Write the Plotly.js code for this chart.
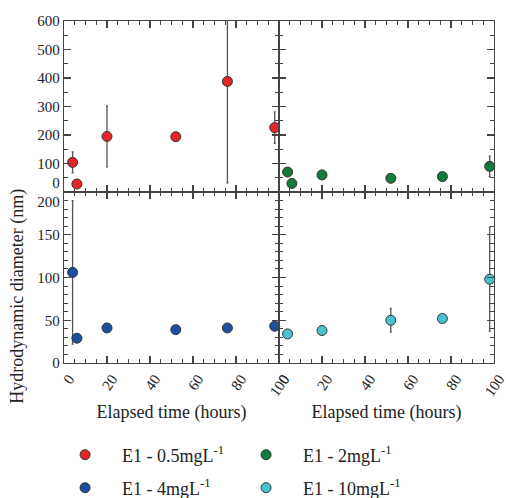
<!DOCTYPE html>
<html>
<head>
<meta charset="utf-8">
<script src="https://cdn.plot.ly/plotly-3.0.1.min.js"></script>
<style>html,body{margin:0;padding:0;background:#fff;}</style>
</head>
<body>
<div id="chart" style="width:506px;height:498px;"></div>
<script>
// ---- data ----
const timeA = [4, 6, 20, 52, 76, 98];          // hours, red / green / blue series
const timeCyan = [4, 20, 52, 76, 98];          // hours, cyan series

const red05 = [104, 28, 195, 194, 388, 226];
const red05Err = [37, 0, 107, 0, 356, 55];

const green2 = [70, 30, 60, 48, 54, 90];
const green2Err = [0, 0, 0, 0, 0, 36];

const blue4 = [106, 29, 41, 39, 41, 43];
const blue4Err = [84, 0, 0, 0, 0, 0];

const cyan10 = [34, 38, 50, 52, 98];
const cyan10Err = [0, 5, 14, 0, 61];

const seriesNames = ['E1 - 0.5mgL<sup>-1</sup>', 'E1 - 2mgL<sup>-1</sup>', 'E1 - 4mgL<sup>-1</sup>', 'E1 - 10mgL<sup>-1</sup>'];
const xTicks = [0, 20, 40, 60, 80, 100];
const yTicksTop = [0, 100, 200, 300, 400, 500, 600];
const yTicksBottom = [0, 50, 100, 150, 200];

// ---- styling ----
const FONT = '"Liberation Serif", "Times New Roman", serif';
const colors = ['#e8242b', '#117b3c', '#1d4f9f', '#4bc1cf'];
const errStyle = {type: 'data', symmetric: true, color: '#555', thickness: 1.3, width: 1};

function trace(x, y, err, i, xa, ya, legend, clip) {
  return {
    x: x, y: y, type: 'scatter', mode: 'markers', name: seriesNames[i],
    xaxis: xa, yaxis: ya, legend: legend, cliponaxis: clip,
    marker: {color: colors[i], size: 10, line: {color: '#333', width: 1}},
    error_y: Object.assign({array: err}, errStyle)
  };
}

const data = [
  trace(timeA, red05, red05Err, 0, 'x', 'y', 'legend', true),
  trace(timeA, green2, green2Err, 1, 'x2', 'y2', 'legend', false),
  trace(timeA, blue4, blue4Err, 2, 'x3', 'y3', 'legend2', false),
  trace(timeCyan, cyan10, cyan10Err, 3, 'x4', 'y4', 'legend2', false)
];

const axLine = '#444';
function xAxis(domain, anchor, labels) {
  return {
    domain: domain, anchor: anchor, range: [0, 100],
    tickvals: xTicks, ticktext: xTicks.map(String),
    showticklabels: labels, tickangle: -55, ticklabelshift: 5, ticklabeloverflow: 'allow',
    ticks: 'inside', ticklen: 7, tickwidth: 1.2, tickcolor: axLine,
    minor: {dtick: 5, ticks: 'inside', ticklen: 4, tickwidth: 1, tickcolor: axLine},
    showline: true, linecolor: axLine, linewidth: 1.3, mirror: 'allticks',
    showgrid: false, zeroline: false,
    tickfont: {family: FONT, size: 15, color: '#222'},
    title: labels ? {text: 'Elapsed time (hours)', font: {family: FONT, size: 18, color: '#222'}, standoff: 7} : {text: ''}
  };
}
function yAxis(domain, anchor, range, tickvals, ticktext, minorDt, labels) {
  return {
    domain: domain, anchor: anchor, range: range,
    tickvals: tickvals, ticktext: ticktext, showticklabels: labels,
    ticks: 'inside', ticklen: 7, tickwidth: 1.2, tickcolor: axLine,
    minor: {dtick: minorDt, ticks: 'inside', ticklen: 4, tickwidth: 1, tickcolor: axLine},
    showline: true, linecolor: axLine, linewidth: 1.3, mirror: 'allticks',
    showgrid: false, zeroline: false,
    tickfont: {family: FONT, size: 15, color: '#222'}
  };
}

const topText = yTicksTop.map(v => v === 0 ? '0<br>&nbsp;' : String(v));
const botText = yTicksBottom.map(v => v === 200 ? '&nbsp;<br>200' : String(v));

const legendCommon = {
  orientation: 'h', xref: 'container', yref: 'container', xanchor: 'left', yanchor: 'middle',
  entrywidth: 102, entrywidthmode: 'pixels', itemwidth: 64,
  font: {family: FONT, size: 18, color: '#222'}, bgcolor: 'rgba(0,0,0,0)'
};

const layout = {
  width: 506, height: 498,
  margin: {l: 64, r: 12, t: 20.5, b: 134.5},
  paper_bgcolor: '#fff', plot_bgcolor: '#fff',
  showlegend: true,
  xaxis: xAxis([0, 0.5], 'y', false),
  yaxis: yAxis([0.5, 1], 'x', [0, 600], yTicksTop, topText, 50, true),
  xaxis2: xAxis([0.5, 1], 'y2', false),
  yaxis2: yAxis([0.5, 1], 'x2', [0, 600], yTicksTop, topText, 50, false),
  xaxis3: xAxis([0, 0.5], 'y3', true),
  yaxis3: yAxis([0, 0.5], 'x3', [0, 200], yTicksBottom, botText, 10, true),
  xaxis4: xAxis([0.5, 1], 'y4', true),
  yaxis4: yAxis([0, 0.5], 'x4', [0, 200], yTicksBottom, botText, 10, false),
  legend: Object.assign({x: 0.095, y: 1 - 455 / 498}, legendCommon),
  legend2: Object.assign({x: 0.095, y: 1 - 488 / 498}, legendCommon),
  annotations: [{
    text: 'Hydrodynamic diameter (nm)', textangle: -90,
    xref: 'paper', yref: 'paper', x: 0, y: 0.194, xshift: -46,
    xanchor: 'center', yanchor: 'middle', showarrow: false,
    font: {family: FONT, size: 18, color: '#222'}
  }]
};

Plotly.newPlot('chart', data, layout, {displayModeBar: false, staticPlot: true});
</script>
</body>
</html>
